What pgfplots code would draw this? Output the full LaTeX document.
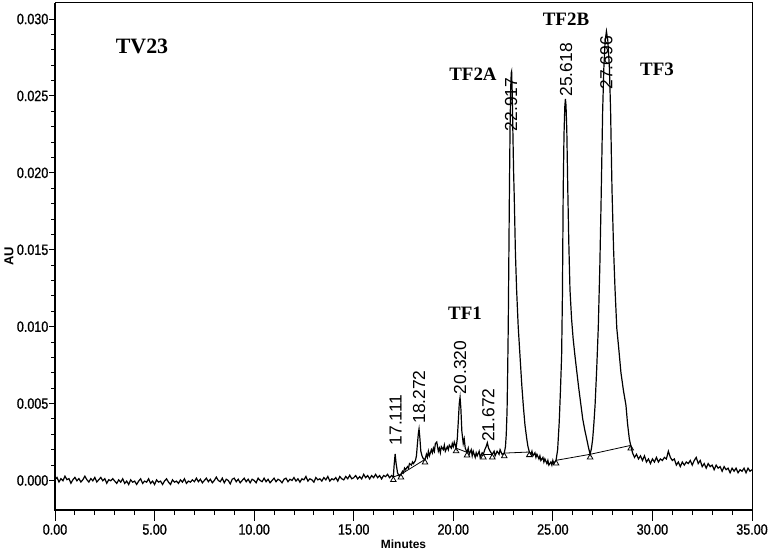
\documentclass[border=0pt]{standalone}
\usepackage{fontspec}
\setmainfont{Liberation Sans}
\newfontfamily\narrowfont[FakeStretch=0.84, FakeBold=0.8]{Liberation Sans}
\newfontfamily\tfont{Liberation Serif}
\usepackage{pgfplots}
\usepackage{pgfplotstable}
\pgfplotsset{compat=1.18}

\pgfplotstableread{
x y
0.0 0.00005
0.1 0.00020
0.2 -0.00010
0.3 0.00012
0.4 -0.00002
0.5 0.00028
0.6 0.00005
0.7 0.00012
0.8 -0.00018
0.9 0.00005
1.0 0.00020
1.1 -0.00002
1.2 0.00012
1.3 -0.00010
1.4 0.00005
1.5 0.00028
1.6 0.00005
1.7 -0.00010
1.8 0.00012
1.9 -0.00002
2.0 0.00020
2.1 -0.00010
2.2 0.00005
2.3 0.00020
2.4 -0.00002
2.5 0.00012
2.6 -0.00018
2.7 0.00005
2.8 -0.00002
2.9 0.00012
3.0 -0.00004
3.1 -0.00019
3.2 0.00004
3.3 -0.00011
3.4 0.00011
3.5 -0.00019
3.6 -0.00004
3.7 -0.00026
3.8 0.00004
3.9 -0.00011
4.0 -0.00004
4.1 -0.00026
4.2 -0.00004
4.3 0.00011
4.4 -0.00019
4.5 -0.00004
4.6 -0.00011
4.7 0.00011
4.8 -0.00019
4.9 -0.00004
5.0 -0.00026
5.1 0.00004
5.2 -0.00011
5.3 -0.00004
5.4 -0.00026
5.5 -0.00004
5.6 0.00011
5.7 -0.00011
5.8 -0.00026
5.9 0.00004
6.0 -0.00011
6.1 -0.00004
6.2 -0.00019
6.3 0.00004
6.4 -0.00011
6.5 0.00011
6.6 -0.00019
6.7 -0.00004
6.8 -0.00011
6.9 0.00004
7.0 -0.00008
7.1 0.00015
7.2 -0.00008
7.3 0.00008
7.4 -0.00015
7.5 0.00000
7.6 0.00015
7.7 -0.00008
7.8 0.00008
7.9 -0.00015
8.0 0.00000
8.1 0.00022
8.2 0.00000
8.3 -0.00008
8.4 0.00015
8.5 -0.00015
8.6 0.00008
8.7 0.00000
8.8 -0.00022
8.9 0.00008
9.0 0.00015
9.1 -0.00008
9.2 0.00008
9.3 -0.00015
9.4 0.00000
9.5 0.00015
9.6 -0.00008
9.7 0.00008
9.8 -0.00015
9.9 0.00008
10.0 0.00000
10.1 -0.00015
10.2 0.00015
10.3 0.00000
10.4 -0.00008
10.5 0.00015
10.6 -0.00008
10.7 0.00008
10.8 -0.00015
10.9 0.00000
11.0 0.00015
11.1 -0.00008
11.2 0.00008
11.3 0.00000
11.4 -0.00015
11.5 0.00008
11.6 0.00015
11.7 -0.00008
11.8 0.00008
11.9 0.00000
12.0 0.00019
12.1 -0.00004
12.2 0.00011
12.3 -0.00011
12.4 0.00011
12.5 0.00004
12.6 0.00026
12.7 -0.00004
12.8 0.00011
12.9 0.00004
13.0 -0.00011
13.1 0.00019
13.2 0.00004
13.3 0.00011
13.4 -0.00004
13.5 0.00019
13.6 0.00004
13.7 0.00026
13.8 -0.00004
13.9 0.00011
14.0 0.00004
14.1 0.00019
14.2 -0.00004
14.3 0.00026
14.4 0.00011
14.5 0.00004
14.6 0.00026
14.7 0.00011
14.8 0.00034
14.9 0.00011
15.0 0.00018
15.1 0.00032
15.2 0.00010
15.3 0.00025
15.4 0.00010
15.5 0.00040
15.6 0.00018
15.7 0.00032
15.8 0.00010
15.9 0.00032
16.0 0.00018
16.1 0.00040
16.2 0.00018
16.3 0.00032
16.4 0.00010
16.5 0.00032
16.6 0.00025
16.7 0.00040
16.8 0.00018
16.9 0.00032
16.99 0.00023
17.03 0.00100
17.08 0.00173
17.13 0.00110
17.20 0.00050
17.28 0.00030
17.37 0.00040
17.45 0.00060
17.50 0.00050
17.55 0.00080
17.60 0.00070
17.70 0.00090
17.75 0.00080
17.80 0.00110
17.90 0.00100
17.95 0.00120
18.00 0.00110
18.10 0.00130
18.15 0.00160
18.20 0.00240
18.25 0.00310
18.28 0.00335
18.32 0.00280
18.37 0.00190
18.43 0.00160
18.50 0.00140
18.58 0.00137
18.65 0.00170
18.70 0.00150
18.75 0.00190
18.80 0.00160
18.90 0.00200
18.95 0.00180
19.00 0.00210
19.05 0.00190
19.10 0.00240
19.17 0.00250
19.25 0.00190
19.30 0.00210
19.35 0.00180
19.40 0.00220
19.50 0.00200
19.55 0.00230
19.60 0.00190
19.70 0.00220
19.75 0.00200
19.80 0.00230
19.90 0.00210
19.95 0.00240
20.00 0.00220
20.05 0.00250
20.10 0.00230
20.14 0.00210
20.20 0.00270
20.25 0.00380
20.30 0.00500
20.34 0.00540
20.38 0.00470
20.43 0.00320
20.50 0.00240
20.55 0.00270
20.60 0.00210
20.69 0.00183
20.75 0.00210
20.80 0.00170
20.90 0.00200
20.95 0.00160
21.00 0.00190
21.10 0.00150
21.15 0.00180
21.20 0.00160
21.30 0.00190
21.35 0.00150
21.45 0.00180
21.51 0.00170
21.58 0.00200
21.65 0.00220
21.71 0.00245
21.77 0.00210
21.85 0.00190
21.90 0.00180
21.96 0.00170
22.05 0.00190
22.10 0.00160
22.20 0.00190
22.30 0.00170
22.35 0.00200
22.45 0.00170
22.56 0.00178
22.62 0.00220
22.66 0.00300
22.70 0.00450
22.73 0.00700
22.76 0.01000
22.79 0.01450
22.82 0.01900
22.85 0.02280
22.88 0.02540
22.91 0.02650
22.93 0.02660
22.96 0.02520
22.99 0.02280
23.03 0.02000
23.06 0.01850
23.12 0.01480
23.18 0.01240
23.26 0.01000
23.35 0.00810
23.44 0.00620
23.52 0.00480
23.60 0.00360
23.69 0.00270
23.75 0.00220
23.82 0.00185
23.90 0.00170
23.95 0.00190
24.00 0.00160
24.10 0.00180
24.15 0.00150
24.20 0.00170
24.30 0.00140
24.35 0.00160
24.40 0.00130
24.50 0.00150
24.55 0.00120
24.60 0.00140
24.70 0.00110
24.75 0.00130
24.80 0.00100
24.90 0.00120
24.95 0.00100
25.00 0.00130
25.05 0.00110
25.10 0.00120
25.16 0.00131
25.24 0.00200
25.32 0.00380
25.38 0.00580
25.44 0.00810
25.48 0.01200
25.52 0.01890
25.56 0.02250
25.60 0.02430
25.63 0.02480
25.66 0.02440
25.70 0.02280
25.75 0.01890
25.80 0.01550
25.86 0.01240
25.94 0.01050
26.02 0.00920
26.11 0.00810
26.20 0.00710
26.30 0.00600
26.41 0.00490
26.50 0.00400
26.60 0.00330
26.70 0.00270
26.78 0.00220
26.87 0.00170
26.94 0.00210
27.00 0.00270
27.06 0.00370
27.12 0.00490
27.20 0.00720
27.28 0.00990
27.36 0.01400
27.42 0.01800
27.46 0.02100
27.50 0.02400
27.56 0.02680
27.62 0.02850
27.69 0.02920
27.76 0.02860
27.84 0.02680
27.90 0.02400
27.94 0.02100
27.97 0.01890
28.05 0.01500
28.12 0.01250
28.21 0.00990
28.30 0.00870
28.42 0.00700
28.55 0.00580
28.67 0.00490
28.75 0.00370
28.84 0.00270
28.91 0.00228
29.0 0.00180
29.1 0.00150
29.2 0.00170
29.3 0.00140
29.4 0.00160
29.5 0.00130
29.6 0.00160
29.7 0.00120
29.8 0.00140
29.9 0.00110
30.0 0.00140
30.1 0.00120
30.2 0.00150
30.3 0.00120
30.4 0.00140
30.5 0.00130
30.6 0.00150
30.7 0.00140
30.8 0.00190
30.9 0.00150
31.0 0.00130
31.1 0.00140
31.2 0.00100
31.3 0.00120
31.4 0.00090
31.5 0.00120
31.6 0.00100
31.7 0.00120
31.8 0.00110
31.9 0.00130
32.0 0.00100
32.1 0.00130
32.2 0.00150
32.3 0.00110
32.4 0.00130
32.5 0.00090
32.6 0.00110
32.7 0.00080
32.8 0.00110
32.9 0.00090
33.0 0.00100
33.1 0.00070
33.2 0.00100
33.3 0.00080
33.4 0.00090
33.5 0.00060
33.6 0.00090
33.7 0.00070
33.8 0.00080
33.9 0.00050
34.0 0.00080
34.1 0.00060
34.2 0.00080
34.3 0.00050
34.4 0.00070
34.5 0.00060
34.6 0.00080
34.7 0.00050
34.8 0.00080
34.9 0.00060
35.0 0.00070
}\trace

\pgfplotstableread{
x y
16.99 0.00023
17.37 0.00040
18.58 0.00137
20.14 0.00210
20.69 0.00183
21.51 0.00170
21.96 0.00170
22.56 0.00178
23.82 0.00185
25.16 0.00131
26.87 0.00170
28.91 0.00228
}\marks

\pgfplotsset{
  common/.style={
    scale only axis,
    width=697bp, height=507bp,
    xmin=0, xmax=35,
    ymin=-0.0019, ymax=0.03106,
    tick align=outside,
    tick style={black, line width=0.9bp},
    scaled y ticks=false,
    /pgf/number format/assume math mode=true,
    tick label style={font=\narrowfont\fontsize{15}{17}\selectfont},
  },
}

\begin{document}
\begin{tikzpicture}
\begin{axis}[
  common,
  name=ax,
  clip=false,
  axis line style={line width=0.9bp},
  xtick=\empty,
  ytick={0,0.005,...,0.030},
  minor y tick num=4,
  major tick length=6bp, minor tick length=3.5bp,
  ytick pos=left,
  yticklabel style={/pgf/number format/fixed, /pgf/number format/fixed zerofill, /pgf/number format/precision=3, inner xsep=0.5bp},
  ylabel={AU},
  every axis y label/.style={at={(axis description cs:0,0.5)}, xshift=-46bp, rotate=90, anchor=center, font=\bfseries\fontsize{13}{15}\selectfont},
  extra description/.code={
    \draw[line width=2bp] (axis description cs:0,1) -- (axis description cs:0,0) -- (axis description cs:1,0);
  },
]
\addplot[black, line width=1.2bp] table[x=x, y=y] {\trace};

% integration baselines
\addplot[black, line width=0.8bp] coordinates {(16.99,0.00023) (17.37,0.00040) (18.58,0.00137)};
\addplot[black, line width=0.8bp] coordinates {(20.14,0.00210) (20.69,0.00183)};
\addplot[black, line width=0.8bp] coordinates {(21.51,0.00170) (21.96,0.00170)};
\addplot[black, line width=0.8bp] coordinates {(22.56,0.00178) (23.82,0.00185)};
\addplot[black, line width=0.8bp] coordinates {(25.16,0.00131) (26.87,0.00170) (28.91,0.00228)};
\addplot[black, only marks, mark=triangle, mark size=3.2bp, mark options={line width=0.8bp, yshift=-3bp}] table[x=x, y=y] {\marks};

% retention-time labels
\begin{scope}[every node/.style={font=\fontsize{17.5}{19}\selectfont, rotate=90, anchor=west, inner sep=0pt}]
\node at (axis cs:17.11,0.00227) {17.111};
\node at (axis cs:18.28,0.00368) {18.272};
\node at (axis cs:20.34,0.00560) {20.320};
\node at (axis cs:21.76,0.00250) {21.672};
\node at (axis cs:22.90,0.02270) {22.917};
\node at (axis cs:25.66,0.02495) {25.618};
\node at (axis cs:27.69,0.02540) {27.696};
\end{scope}

% fraction labels
\begin{scope}[every node/.style={font=\tfont\bfseries\fontsize{19}{21}\selectfont, inner sep=0pt}]
\node at (axis cs:4.37,0.0282) {\fontsize{22}{24}\selectfont TV23};
\node at (axis cs:20.59,0.0109) {TF1};
\node at (axis cs:20.99,0.0264) {TF2A};
\node at (axis cs:25.66,0.0300) {TF2B};
\node at (axis cs:30.23,0.0267) {TF3};
\end{scope}
\end{axis}

\begin{axis}[
  common,
  axis line style={draw=none},
  xtick={0,5,...,35},
  minor x tick num=4,
  ytick=\empty,
  major tick length=11bp, minor tick length=5.5bp,
  xtick pos=bottom,
  xticklabel style={/pgf/number format/fixed, /pgf/number format/fixed zerofill, /pgf/number format/precision=2},
  xlabel={Minutes},
  every axis x label/.style={at={(axis description cs:0.5,0)}, anchor=north, inner sep=0pt, yshift=-30bp, font=\bfseries\fontsize{12}{14}\selectfont},
]
\end{axis}
\pgfresetboundingbox
\path[use as bounding box] ([xshift=-55bp,yshift=-43.5bp]ax.south west) rectangle ([xshift=18bp,yshift=2.7bp]ax.north east);
\end{tikzpicture}
\end{document}
